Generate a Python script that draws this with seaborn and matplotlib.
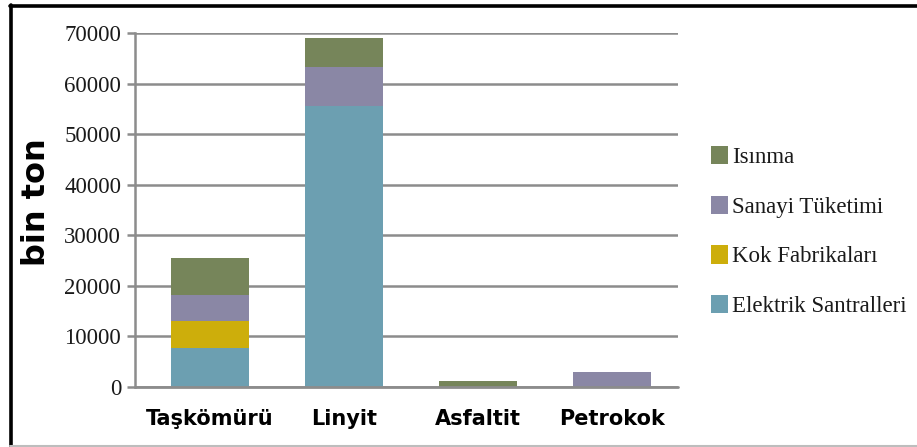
import numpy as np
import pandas as pd
import seaborn as sns
import matplotlib.pyplot as plt
from matplotlib.lines import Line2D
from matplotlib.patches import Patch

kategoriler = ['Taşkömürü', 'Linyit', 'Asfaltit', 'Petrokok']
elektrik = [7700, 55500, 0, 0]
kok = [5300, 0, 0, 0]
sanayi = [5100, 7700, 0, 2900]
isinma = [7500, 5900, 1100, 0]

seriler = ['Elektrik Santralleri', 'Kok Fabrikaları', 'Sanayi Tüketimi', 'Isınma']
renkler = ['#6c9fb1', '#cdae0b', '#8a87a5', '#76855a']

df = pd.DataFrame({'kategori': kategoriler,
                   'Elektrik Santralleri': elektrik,
                   'Kok Fabrikaları': kok,
                   'Sanayi Tüketimi': sanayi,
                   'Isınma': isinma})

sns.set_theme(style='white')

fig = plt.figure(figsize=(9.17, 4.47), dpi=100)
ax = fig.add_axes([135 / 917, 60 / 447, 543 / 917, 354 / 447])

# stacked bars: draw cumulative totals from top series down
cum = df[seriler].cumsum(axis=1)
for s, c in reversed(list(zip(seriler, renkler))):
    sns.barplot(x=df['kategori'], y=cum[s], color=c, width=0.58,
                saturation=1, ax=ax, zorder=3, linewidth=0)

ax.set_ylim(0, 70000)
ax.set_yticks(np.arange(0, 70001, 10000))
ax.set_xlim(-0.56, 3.49)
ax.yaxis.grid(True, color='#8c8c8c', linewidth=1.8, zorder=0)
for sp in ['top', 'right', 'bottom']:
    ax.spines[sp].set_visible(False)
ax.spines['left'].set_color('#8c8c8c')
ax.spines['left'].set_linewidth(1.8)
ax.axhline(0, color='#8c8c8c', linewidth=2, zorder=4, clip_on=False)
ax.tick_params(axis='y', left=True, length=6, color='#8c8c8c', width=1.8, pad=4)
ax.tick_params(axis='x', bottom=False, pad=10)

for lbl in ax.get_yticklabels():
    lbl.set_fontfamily('Liberation Serif')
    lbl.set_fontsize(16.5)
    lbl.set_color('#1a1a1a')
for lbl in ax.get_xticklabels():
    lbl.set_fontfamily('DejaVu Sans')
    lbl.set_fontweight('bold')
    lbl.set_fontsize(15)
    lbl.set_color('black')

ax.set_xlabel('')
ax.set_ylabel('bin ton', fontfamily='DejaVu Sans', fontweight='bold',
              fontsize=23, color='black')
ax.yaxis.set_label_coords(-0.153, 0.523)

handles = [Patch(facecolor=c, edgecolor='none') for c in renkler]
leg = fig.legend(handles[::-1], seriler[::-1], loc='center left',
                 bbox_to_anchor=(702 / 917, 0.482), frameon=False,
                 handlelength=0.72, handleheight=0.85, handletextpad=0.2,
                 labelspacing=1.2, borderaxespad=0,
                 prop={'family': 'Liberation Serif', 'size': 16.5})
for t in leg.get_texts():
    t.set_color('#1a1a1a')

# figure border (top and left black, bottom light gray)
fig.add_artist(Line2D([10 / 917, 1], [1 - 5.5 / 447, 1 - 5.5 / 447],
                      transform=fig.transFigure, color='black', linewidth=2.6))
fig.add_artist(Line2D([10.5 / 917, 10.5 / 917], [0, 1 - 4.5 / 447],
                      transform=fig.transFigure, color='black', linewidth=2.6))
fig.add_artist(Line2D([10 / 917, 1], [1.2 / 447, 1.2 / 447],
                      transform=fig.transFigure, color='#bdbdbd', linewidth=1.5))

fig.savefig('out.png', dpi=100)
